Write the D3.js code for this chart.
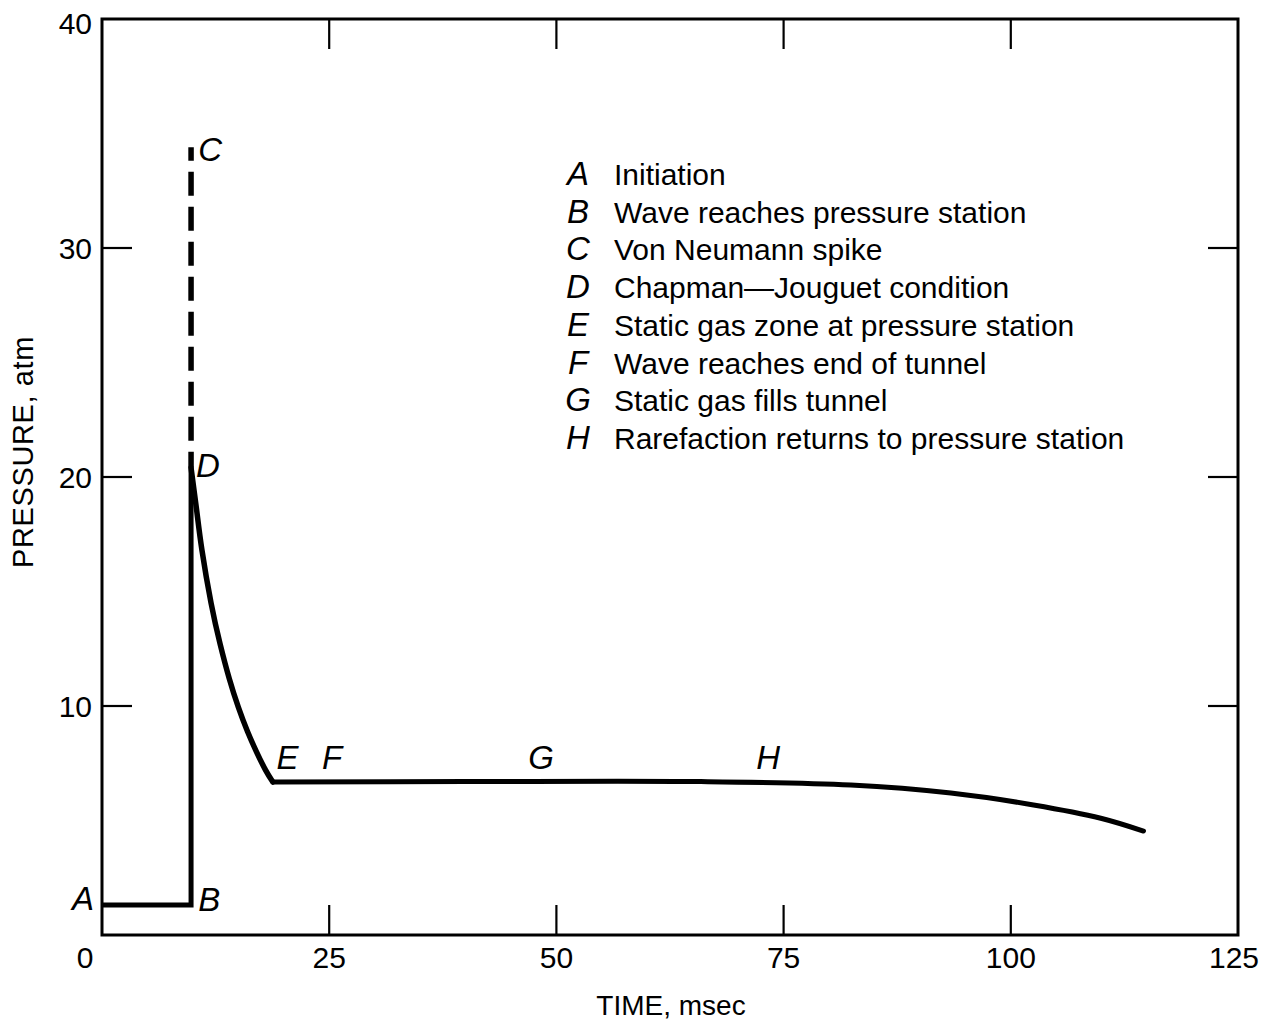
<!DOCTYPE html>
<html>
<head>
<meta charset="utf-8">
<script src="https://cdn.jsdelivr.net/npm/d3@7"></script>
<style>
  html, body { margin: 0; padding: 0; background: #fff; }
  svg { display: block; }
  text { font-family: "Liberation Sans", Arial, Helvetica, sans-serif; fill: #000; }
</style>
</head>
<body>
<svg id="chart" width="1264" height="1021"></svg>
<script>
// ---------- data ----------
const xTicks = [0, 25, 50, 75, 100, 125];
const yTicks = [0, 10, 20, 30, 40];
const xInnerTicks = [25, 50, 75, 100];
const yInnerTicks = [10, 20, 30];

// baseline before arrival (A -> B) and jump (B -> D)
const stepTime = [0, 9.8, 9.8];
const stepPressure = [1.31, 1.31, 20.4];

// von Neumann spike (dashed, D -> C)
const spikeTime = [9.8, 9.8];
const spikePressure = [20.4, 34.4];

// decay from D to E
const decayTime = [9.8, 10.4, 11.0, 12.0, 13.0, 14.0, 15.0, 16.0, 17.0, 18.0, 18.8];
const decayPressure = [20.4, 18.6, 16.8, 14.5, 12.7, 11.2, 9.95, 8.9, 8.0, 7.2, 6.68];

// static zone E -> end of record
const plateauTime = [18.8, 40, 65.9, 82.4, 93.4, 102.5, 109.9, 114.6];
const plateauPressure = [6.68, 6.7, 6.7, 6.55, 6.2, 5.68, 5.1, 4.54];

// point labels on the curve (time, pressure at text baseline)
const pointNames = ["A", "B", "C", "D", "E", "F", "G", "H"];
const pointTime = [-3.3, 10.6, 10.6, 10.35, 19.2, 24.2, 46.9, 72.0];
const pointPressure = [1.09, 1.05, 33.8, 20.0, 7.25, 7.25, 7.25, 7.25];

// legend
const legendKeys = ["A", "B", "C", "D", "E", "F", "G", "H"];
const legendTexts = [
  "Initiation",
  "Wave reaches pressure station",
  "Von Neumann spike",
  "Chapman\u2014Jouguet condition",
  "Static gas zone at pressure station",
  "Wave reaches end of tunnel",
  "Static gas fills tunnel",
  "Rarefaction returns to pressure station"
];

const xTitle = "TIME, msec";
const yTitle = "PRESSURE, atm";

// ---------- drawing ----------
const svg = d3.select("#chart");
const x = d3.scaleLinear().domain([0, 125]).range([102, 1238]);
const y = d3.scaleLinear().domain([0, 40]).range([935, 19]);

const tickLen = 30;

// frame
svg.append("rect")
  .attr("x", x(0)).attr("y", y(40))
  .attr("width", x(125) - x(0)).attr("height", y(0) - y(40))
  .attr("fill", "none").attr("stroke", "#000").attr("stroke-width", 3);

// inner ticks
const tg = svg.append("g").attr("stroke", "#000").attr("stroke-width", 2.2);
xInnerTicks.forEach(v => {
  tg.append("line").attr("x1", x(v)).attr("x2", x(v)).attr("y1", y(0)).attr("y2", y(0) - tickLen);
  tg.append("line").attr("x1", x(v)).attr("x2", x(v)).attr("y1", y(40)).attr("y2", y(40) + tickLen);
});
yInnerTicks.forEach(v => {
  tg.append("line").attr("x1", x(0)).attr("x2", x(0) + tickLen).attr("y1", y(v)).attr("y2", y(v));
  tg.append("line").attr("x1", x(125)).attr("x2", x(125) - tickLen).attr("y1", y(v)).attr("y2", y(v));
});

// x tick labels
svg.append("g").selectAll("text").data(xTicks).join("text")
  .attr("x", d => x(d) + (d === 0 ? -17 : (d === 125 ? -4 : 0)))
  .attr("y", y(0) + 33)
  .attr("text-anchor", "middle")
  .attr("font-size", 30)
  .text(d => d);

// y tick labels (0 is shared with x axis)
svg.append("g").selectAll("text").data(yTicks.filter(d => d > 0)).join("text")
  .attr("x", x(0) - 10)
  .attr("y", d => y(d) + (d === 40 ? 4 : 0))
  .attr("dy", "0.36em")
  .attr("text-anchor", "end")
  .attr("font-size", 30)
  .text(d => d);

// axis titles
svg.append("text")
  .attr("x", 671).attr("y", 1015)
  .attr("text-anchor", "middle").attr("font-size", 28)
  .text(xTitle);
svg.append("text")
  .attr("transform", "translate(33,452) rotate(-90)")
  .attr("text-anchor", "middle").attr("font-size", 29)
  .attr("letter-spacing", 0.6)
  .text(yTitle);

// curves
const line = d3.line().x(d => x(d[0])).y(d => y(d[1]));
const curveLine = d3.line().x(d => x(d[0])).y(d => y(d[1])).curve(d3.curveNatural);

svg.append("path")
  .datum(stepTime.map((t, i) => [t, stepPressure[i]]))
  .attr("d", line)
  .attr("fill", "none").attr("stroke", "#000").attr("stroke-width", 5)
  .attr("stroke-linejoin", "miter");

svg.append("path")
  .datum(spikeTime.map((t, i) => [t, spikePressure[i]]))
  .attr("d", line)
  .attr("fill", "none").attr("stroke", "#000").attr("stroke-width", 5.5)
  .attr("stroke-dasharray", "24 11")
  .attr("stroke-dashoffset", 8);

svg.append("path")
  .datum(decayTime.map((t, i) => [t, decayPressure[i]]))
  .attr("d", curveLine)
  .attr("fill", "none").attr("stroke", "#000").attr("stroke-width", 5.5)
  .attr("stroke-linecap", "round");

svg.append("path")
  .datum(plateauTime.map((t, i) => [t, plateauPressure[i]]))
  .attr("d", d3.line().x(d => x(d[0])).y(d => y(d[1])).curve(d3.curveCatmullRom.alpha(0.5)))
  .attr("fill", "none").attr("stroke", "#000").attr("stroke-width", 5)
  .attr("stroke-linecap", "round");

// point labels
svg.append("g").selectAll("text").data(pointNames).join("text")
  .attr("x", (d, i) => x(pointTime[i]))
  .attr("y", (d, i) => y(pointPressure[i]))
  .attr("font-size", 33)
  .attr("font-style", "italic")
  .text(d => d);

// legend
const lg = svg.append("g");
legendKeys.forEach((k, i) => {
  const by = 185 + i * 37.7;
  lg.append("text").attr("x", 578).attr("y", by)
    .attr("text-anchor", "middle")
    .attr("font-size", 33).attr("font-style", "italic").text(k);
  lg.append("text").attr("x", 614).attr("y", by)
    .attr("font-size", 30).text(legendTexts[i]);
});
</script>
</body>
</html>
